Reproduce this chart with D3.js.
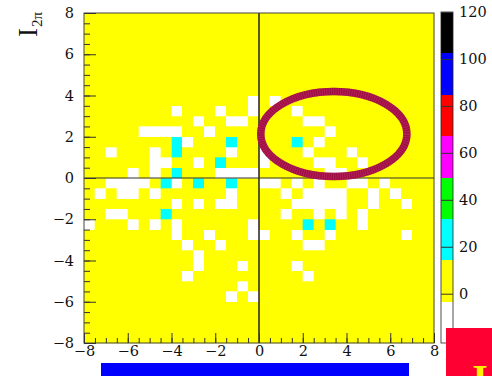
<!DOCTYPE html>
<html>
<head>
<meta charset="utf-8">
<script src="https://cdn.jsdelivr.net/npm/d3@7/dist/d3.min.js"></script>
<style>
  html, body { margin: 0; padding: 0; background: #fff; }
  svg { display: block; }
</style>
</head>
<body>
<svg id="chart" width="492" height="376"></svg>
<script>
// ---------------- data ----------------
const xTicks = [-8, -6, -4, -2, 0, 2, 4, 6, 8];
const yTicks = [-8, -6, -4, -2, 0, 2, 4, 6, 8];
const zTicks = [0, 20, 40, 60, 80, 100, 120];
const xRange = [-8, 8];
const yRange = [-8, 8];
const zRange = [-21, 120];
const binWidth = 0.5;
const paletteColors = ["#ffffff", "#ffff00", "#00ffff", "#00ff00", "#ff00ff", "#ff0000", "#0000ff", "#000000"];

// cells below zero (drawn white): [x lower edge, y lower edge, content]
const lowCells = [
  [-0.5, 3.5, -10], [0.5, 3.5, -10],
  [-4, 3.0, -10], [-2, 3.0, -10], [-0.5, 3.0, -10], [1.5, 3.0, -10],
  [-3, 2.5, -10], [-1.5, 2.5, -10], [-1, 2.5, -10], [2, 2.5, -10], [2.5, 2.5, -10],
  [-5.5, 2.0, -10], [-5, 2.0, -10], [-4.5, 2.0, -10], [-4, 2.0, -10], [-2.5, 2.0, -10], [3, 2.0, -10],
  [-3.5, 1.5, -10], [2.5, 1.5, -10],
  [-7, 1.0, -10], [-5, 1.0, -10], [-1.5, 1.0, -10], [0, 1.0, -10], [2, 1.0, -10], [4, 1.0, -10],
  [-5, 0.5, -10], [-4.5, 0.5, -10], [-3, 0.5, -10], [0, 0.5, -10], [2.5, 0.5, -10], [3, 0.5, -10], [4.5, 0.5, -10],
  [-6, 0.0, -10], [-5, 0.0, -10], [-2, 0.0, -10], [-1.5, 0.0, -10], [-1, 0.0, -10], [-0.5, 0.0, -10], [3, 0.0, -10], [3.5, 0.0, -10],
  [-7, -0.5, -10], [-6.5, -0.5, -10], [-6, -0.5, -10], [-5.5, -0.5, -10], [-4, -0.5, -10], [0, -0.5, -10], [0.5, -0.5, -10],
  [1.5, -0.5, -10], [2.5, -0.5, -10], [4, -0.5, -10], [4.5, -0.5, -10], [5.5, -0.5, -10],
  [-7.5, -1.0, -10], [-6.5, -1.0, -10], [-6, -1.0, -10], [-5, -1.0, -10], [-1.5, -1.0, -10], [1, -1.0, -10], [2, -1.0, -10],
  [2.5, -1.0, -10], [3, -1.0, -10], [3.5, -1.0, -10], [5, -1.0, -10], [6, -1.0, -10],
  [-4, -1.5, -10], [-3, -1.5, -10], [-2, -1.5, -10], [-1.5, -1.5, -10], [1.5, -1.5, -10], [2, -1.5, -10], [2.5, -1.5, -10],
  [3, -1.5, -10], [3.5, -1.5, -10], [5, -1.5, -10], [6.5, -1.5, -10],
  [-7, -2.0, -10], [-6.5, -2.0, -10], [1, -2.0, -10], [2.5, -2.0, -10], [3.5, -2.0, -10], [4.5, -2.0, -10],
  [-8, -2.5, -10], [-6, -2.5, -10], [-5, -2.5, -10], [-4, -2.5, -10], [-0.5, -2.5, -10], [4.5, -2.5, -10],
  [-4, -3.0, -10], [-2.5, -3.0, -10], [-0.5, -3.0, -10], [0, -3.0, -10], [1.5, -3.0, -10], [3, -3.0, -10], [6.5, -3.0, -10],
  [-3.5, -3.5, -10], [-2, -3.5, -10], [2, -3.5, -10], [2.5, -3.5, -10],
  [-3, -4.0, -10],
  [-3, -4.5, -10], [-1, -4.5, -10], [1.5, -4.5, -10],
  [-3.5, -5.0, -10], [2, -5.0, -10],
  [-1, -5.5, -10],
  [-1.5, -6.0, -10], [-0.5, -6.0, -10]
];

// cells in the 20-30 band (drawn cyan)
const highCells = [
  [-4, 1.5, 25], [-1.5, 1.5, 25], [1.5, 1.5, 25],
  [-4, 1.0, 25],
  [-2, 0.5, 25],
  [-4, 0.0, 25],
  [-4.5, -0.5, 25], [-3, -0.5, 25], [-1.5, -0.5, 25],
  [-4.5, -2.0, 25],
  [2, -2.5, 25], [3, -2.5, 25]
];

// ellipse annotation: centre and radii in axis units
const ellipseCentre = [3.42, 2.13];
const ellipseRadii = [3.34, 2.06];

// ---------------- drawing ----------------
const svg = d3.select("#chart");
const x = d3.scaleLinear().domain(xRange).range([84, 434]);
const y = d3.scaleLinear().domain(yRange).range([343, 13]);
const z = d3.scaleLinear().domain(zRange).range([343, 12]);
const color = d3.scaleQuantize().domain(zRange).range(paletteColors);

// full grid of bins with empty content 0
const nx = Math.round((xRange[1] - xRange[0]) / binWidth);
const ny = Math.round((yRange[1] - yRange[0]) / binWidth);
const grid = new Map();
for (let i = 0; i < nx; i++) for (let j = 0; j < ny; j++) {
  const bx = xRange[0] + i * binWidth, by = yRange[0] + j * binWidth;
  grid.set(bx + "," + by, [bx, by, 0]);
}
lowCells.concat(highCells).forEach(c => grid.set(c[0] + "," + c[1], c));
const cells = Array.from(grid.values());

svg.append("g").selectAll("rect").data(cells).join("rect")
  .attr("x", d => x(d[0]))
  .attr("y", d => y(d[1] + binWidth))
  .attr("width", d => x(d[0] + binWidth) - x(d[0]))
  .attr("height", d => y(d[1]) - y(d[1] + binWidth))
  .attr("fill", d => color(d[2]))
  .attr("stroke", d => color(d[2]))
  .attr("stroke-width", 0.3)
  .attr("shape-rendering", "crispEdges");

// zero lines
svg.append("line").attr("x1", x(0)).attr("x2", x(0)).attr("y1", y(8)).attr("y2", y(-8))
  .attr("stroke", "#111").attr("stroke-width", 1.4);
svg.append("line").attr("x1", x(-8)).attr("x2", x(8)).attr("y1", y(0)).attr("y2", y(0))
  .attr("stroke", "#333").attr("stroke-width", 1.2);

// ellipse
const ecx = x(ellipseCentre[0]), ecy = y(ellipseCentre[1]);
const erx = x(ellipseCentre[0] + ellipseRadii[0]) - ecx;
const ery = ecy - y(ellipseCentre[1] + ellipseRadii[1]);
svg.append("ellipse").attr("cx", ecx).attr("cy", ecy).attr("rx", erx).attr("ry", ery)
  .attr("fill", "none").attr("stroke", "#9c0f45").attr("stroke-width", 7.5);
svg.append("ellipse").attr("cx", ecx).attr("cy", ecy).attr("rx", erx).attr("ry", ery)
  .attr("fill", "none").attr("stroke", "#c2275e").attr("stroke-width", 7.5)
  .attr("stroke-dasharray", "1 1.3").attr("opacity", 0.7);

// frame
svg.append("rect").attr("x", 84).attr("y", 13).attr("width", 350).attr("height", 330)
  .attr("fill", "none").attr("stroke", "#444").attr("stroke-width", 1);

// axes
const minorX = d3.range(xRange[0], xRange[1] + 0.001, 0.5);
const minorY = d3.range(yRange[0], yRange[1] + 0.001, 0.5);
function styleAxis(g) {
  g.attr("font-family", null).attr("font-size", null);
  g.select(".domain").remove();
  g.selectAll("line").attr("stroke", "#333");
  g.selectAll("text")
    .style("font-family", "'DejaVu Serif', serif")
    .style("font-size", "14.5px")
    .attr("fill", "#111");
}
svg.append("g").attr("transform", "translate(0,343)")
  .call(d3.axisBottom(x).tickValues(minorX).tickSize(-5).tickFormat(""))
  .call(styleAxis);
svg.append("g").attr("transform", "translate(0,343)")
  .call(d3.axisBottom(x).tickValues(xTicks).tickSize(-10).tickPadding(3).tickFormat(d3.format("d")))
  .call(styleAxis);
svg.append("g").attr("transform", "translate(84,0)")
  .call(d3.axisLeft(y).tickValues(minorY).tickSize(-6).tickFormat(""))
  .call(styleAxis);
svg.append("g").attr("transform", "translate(84,0)")
  .call(d3.axisLeft(y).tickValues(yTicks).tickSize(-12).tickPadding(10).tickFormat(d3.format("d")))
  .call(styleAxis);

// y title
const yt = svg.append("text").attr("transform", "translate(37,37) rotate(-90)")
  .style("font-family", "'Liberation Serif', serif")
  .style("font-size", "27px").attr("fill", "#111");
yt.append("tspan").text("I");
yt.append("tspan").style("font-size", "15px").attr("dy", 5).attr("dx", 1).text("2π");

// colour bar
const bands = paletteColors.map((c, i) => {
  const w = (zRange[1] - zRange[0]) / paletteColors.length;
  return { c: c, lo: zRange[0] + i * w, hi: zRange[0] + (i + 1) * w };
});
svg.append("g").selectAll("rect").data(bands).join("rect")
  .attr("x", 441).attr("width", 12)
  .attr("y", d => z(d.hi)).attr("height", d => z(d.lo) - z(d.hi))
  .attr("fill", d => d.c).attr("shape-rendering", "crispEdges");
svg.append("rect").attr("x", 441).attr("y", z(zRange[1])).attr("width", 12)
  .attr("height", z(zRange[0]) - z(zRange[1]))
  .attr("fill", "none").attr("stroke", "#222").attr("stroke-width", 0.8);
svg.append("g").attr("transform", "translate(453,0)")
  .call(d3.axisRight(z).tickValues(zTicks).tickSize(-12).tickPadding(6).tickFormat(d3.format("d")))
  .call(styleAxis);

// decorations at the bottom of the picture
svg.append("rect").attr("x", 101).attr("y", 363).attr("width", 308).attr("height", 13).attr("fill", "#0000ff");
svg.append("rect").attr("x", 446).attr("y", 328).attr("width", 46).attr("height", 48).attr("fill", "#ff0033");
svg.append("text").attr("x", 480).attr("y", 392).attr("text-anchor", "middle")
  .style("font-family", "'Liberation Serif', serif")
  .style("font-size", "40px").style("font-weight", "bold").attr("fill", "#ffee00").text("I");
</script>
</body>
</html>
